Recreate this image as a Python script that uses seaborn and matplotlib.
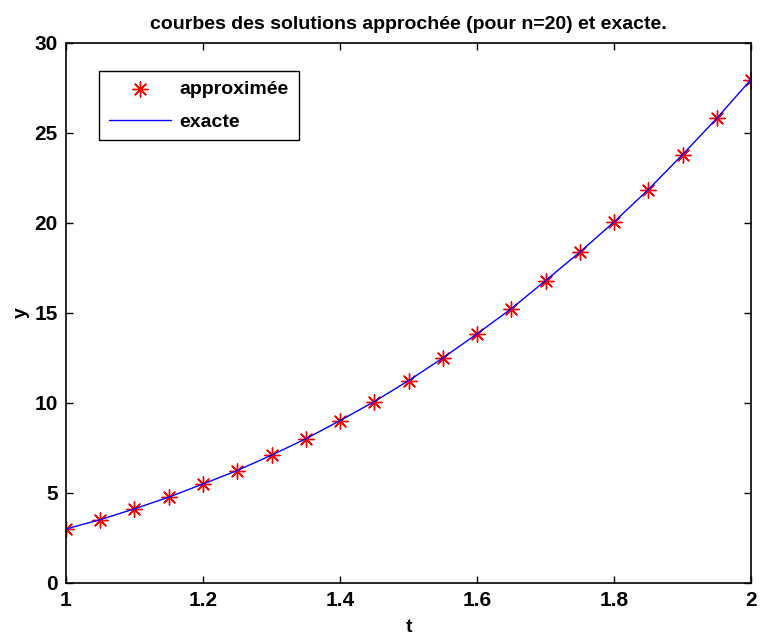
import numpy as np
import pandas as pd
import matplotlib
matplotlib.use("Agg")
import matplotlib.pyplot as plt
import seaborn as sns

# values
t_values = [1.00, 1.05, 1.10, 1.15, 1.20, 1.25, 1.30, 1.35, 1.40, 1.45, 1.50,
            1.55, 1.60, 1.65, 1.70, 1.75, 1.80, 1.85, 1.90, 1.95, 2.00]
y_approx = [3.00, 3.52, 4.11, 4.76, 5.50, 6.24, 7.11, 8.00, 9.02, 10.07, 11.24,
            12.50, 13.83, 15.22, 16.80, 18.37, 20.07, 21.85, 23.79, 25.81, 27.94]
y_exact = [3.00, 3.52, 4.12, 4.77, 5.50, 6.25, 7.10, 8.01, 9.02, 10.08, 11.24,
           12.50, 13.84, 15.24, 16.80, 18.38, 20.06, 21.86, 23.80, 25.82, 27.98]
x_ticks = [1, 1.2, 1.4, 1.6, 1.8, 2]
x_tick_labels = ["1", "1.2", "1.4", "1.6", "1.8", "2"]
y_ticks = [0, 5, 10, 15, 20, 25, 30]

df = pd.DataFrame({"t": t_values, "approx": y_approx, "exact": y_exact})

sns.set_style("ticks")
plt.rcParams["font.family"] = ["Liberation Sans", "DejaVu Sans"]
plt.rcParams["font.weight"] = "bold"
plt.rcParams["xtick.direction"] = "in"
plt.rcParams["ytick.direction"] = "in"
for key in ["text.color", "axes.labelcolor", "xtick.color", "ytick.color"]:
    plt.rcParams[key] = "black"

fig = plt.figure(figsize=(7.61, 6.37), dpi=100)
ax = fig.add_axes([0.0867, 0.0848, 0.9003, 0.8477])

sns.scatterplot(data=df, x="t", y="approx", ax=ax, color="red", marker=(8, 2, 0),
                s=120, linewidth=1.0, label="approximée", zorder=2)
sns.lineplot(data=df, x="t", y="exact", ax=ax, color="blue", linewidth=1.0,
             label="exacte", zorder=3)

ax.set_xlim(1, 2)
ax.set_ylim(0, 30)
ax.set_xticks(x_ticks)
ax.set_xticklabels(x_tick_labels)
ax.set_yticks(y_ticks)
ax.tick_params(axis="both", which="both", top=True, right=True, length=5,
               width=1, labelsize=15, pad=6, color="black")
for lab in ax.get_xticklabels() + ax.get_yticklabels():
    lab.set_fontweight("bold")
for sp in ax.spines.values():
    sp.set_visible(True)
    sp.set_linewidth(1.2)
    sp.set_color("black")

ax.set_xlabel("t", fontsize=14, fontweight="bold", labelpad=6)
ax.set_ylabel("y", fontsize=14, fontweight="bold", labelpad=3)
ax.set_title("courbes des solutions approchée (pour n=20) et exacte.",
             fontsize=14, fontweight="bold", pad=10)

leg = ax.legend(loc="upper left", bbox_to_anchor=(0.048, 0.948), borderaxespad=0,
                fancybox=False, edgecolor="black", framealpha=1, fontsize=14,
                handlelength=3.2, borderpad=0.5, labelspacing=0.75,
                handletextpad=0.45)
leg.get_frame().set_linewidth(1.0)
for txt in leg.get_texts():
    txt.set_fontweight("bold")

fig.savefig("out.png", dpi=100)
